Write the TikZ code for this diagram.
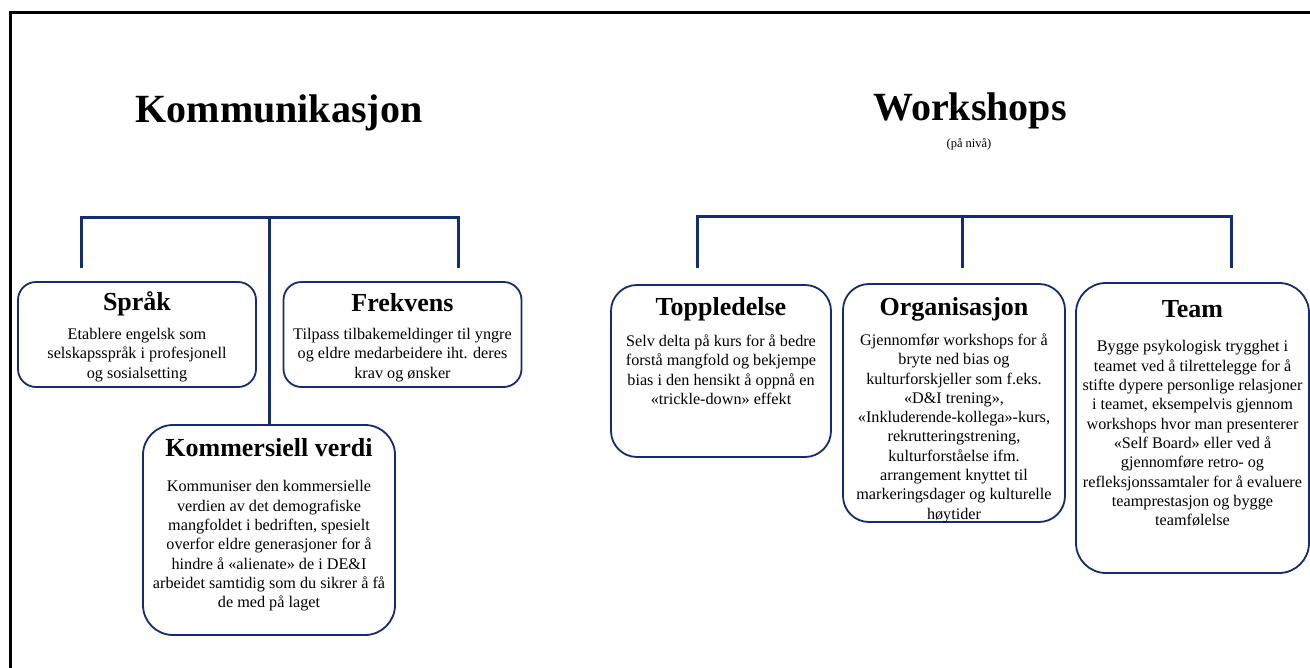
\documentclass[tikz,border=0pt]{standalone}
\usepackage{fontspec}
\setmainfont{Liberation Serif}
\definecolor{navy}{RGB}{20,44,112}
\tikzset{
  box/.style={draw=navy, line width=1.8pt, rounded corners=#1, inner sep=0pt, fill=white},
  box/.default=18pt,
  tree/.style={draw=navy, line width=3pt},
  frame/.style={draw=black, line width=3pt},
  ttl/.style={font=\fontsize{26}{30}\selectfont\bfseries, inner sep=0pt},
  body/.style={font=\fontsize{16.2}{19.3}\selectfont, align=center, inner sep=0pt, anchor=north},
  head/.style={font=\fontsize{40}{46}\selectfont\bfseries, inner sep=0pt},
  small/.style={font=\fontsize{12.5}{14}\selectfont, inner sep=0pt},
}
\begin{document}
\begin{tikzpicture}[x=1pt, y=-1pt]
\useasboundingbox (0,0) rectangle (1310,668);
\fill[white] (0,0) rectangle (1310,668);
% frame
\draw[frame] (1315,13) -- (10,13) -- (10,672);

% headings
\node[head] (komm) at (279,113) {Kommunikasjon};
\node[head] (work) at (970,111) {Workshops};
\node[small] (niva) at (969,144) {(på nivå)};

% left boxes
\node[box, minimum width=238pt, minimum height=105pt] (sprak) at (137,334.5) {};
\node[box, minimum width=238pt, minimum height=105pt] (frekv) at (402.5,334.5) {};
\node[box=30pt, minimum width=252pt, minimum height=210pt] (kv) at (269,530) {};

% right boxes
\node[box=26pt, minimum width=220pt, minimum height=172pt] (topp) at (721,371) {};
\node[box=26pt, minimum width=222pt, minimum height=238pt] (org) at (954,403) {};
\node[box=30pt, minimum width=233pt, minimum height=290pt] (team) at (1192.5,428) {};

% left tree
\coordinate (kL) at (81,218);
\coordinate (kM) at (269,218);
\coordinate (kR) at (458,218);
\coordinate (kLe) at (81,268);
\coordinate (kRe) at (458,268);
\draw[tree] (kLe) -- (kL) -- (kR) -- (kRe);
\draw[tree] (kM) -- (kv.north);

% right tree
\coordinate (wL) at (697,217);
\coordinate (wM) at (962,217);
\coordinate (wR) at (1231,217);
\coordinate (wLe) at (697,268);
\coordinate (wMe) at (962,268);
\coordinate (wRe) at (1231,268);
\draw[tree] (wLe) -- (wL) -- (wR) -- (wRe);
\draw[tree] (wM) -- (wMe);

% texts
\node[ttl] (sprak-t) at (137,304) {Språk};
\node[body] (sprak-b) at (137,328) {Etablere engelsk som\\selskapsspråk i profesjonell\\og sosialsetting};

\node[ttl] (frekv-t) at (402.5,303) {Frekvens};
\node[body] (frekv-b) at (402.5,328) {Tilpass tilbakemeldinger til yngre\\og eldre medarbeidere iht. deres\\krav og ønsker};

\node[ttl] (kv-t) at (269,448) {Kommersiell verdi};
\node[body] (kv-b) at (269,480.5) {Kommuniser den kommersielle\\verdien av det demografiske\\mangfoldet i bedriften, spesielt\\overfor eldre generasjoner for å\\hindre å «alienate» de i DE\&I\\arbeidet samtidig som du sikrer å få\\de med på laget};

\node[ttl] (topp-t) at (721,309) {Toppledelse};
\node[body] (topp-b) at (721,334.5) {Selv delta på kurs for å bedre\\forstå mangfold og bekjempe\\bias i den hensikt å oppnå en\\«trickle-down» effekt};

\node[ttl] (org-t) at (954,309) {Organisasjon};
\node[body] (org-b) at (954,333.5) {Gjennomfør workshops for å\\bryte ned bias og\\kulturforskjeller som f.eks.\\«D\&I trening»,\\«Inkluderende-kollega»-kurs,\\rekrutteringstrening,\\kulturforståelse ifm.\\arrangement knyttet til\\markeringsdager og kulturelle\\høytider};

\node[ttl] (team-t) at (1192.5,309) {Team};
\node[body] (team-b) at (1192.5,340.5) {Bygge psykologisk trygghet i\\teamet ved å tilrettelegge for å\\stifte dypere personlige relasjoner\\i teamet, eksempelvis gjennom\\workshops hvor man presenterer\\«Self Board» eller ved å\\gjennomføre retro- og\\refleksjonssamtaler for å evaluere\\teamprestasjon og bygge\\teamfølelse};
\end{tikzpicture}
\end{document}
